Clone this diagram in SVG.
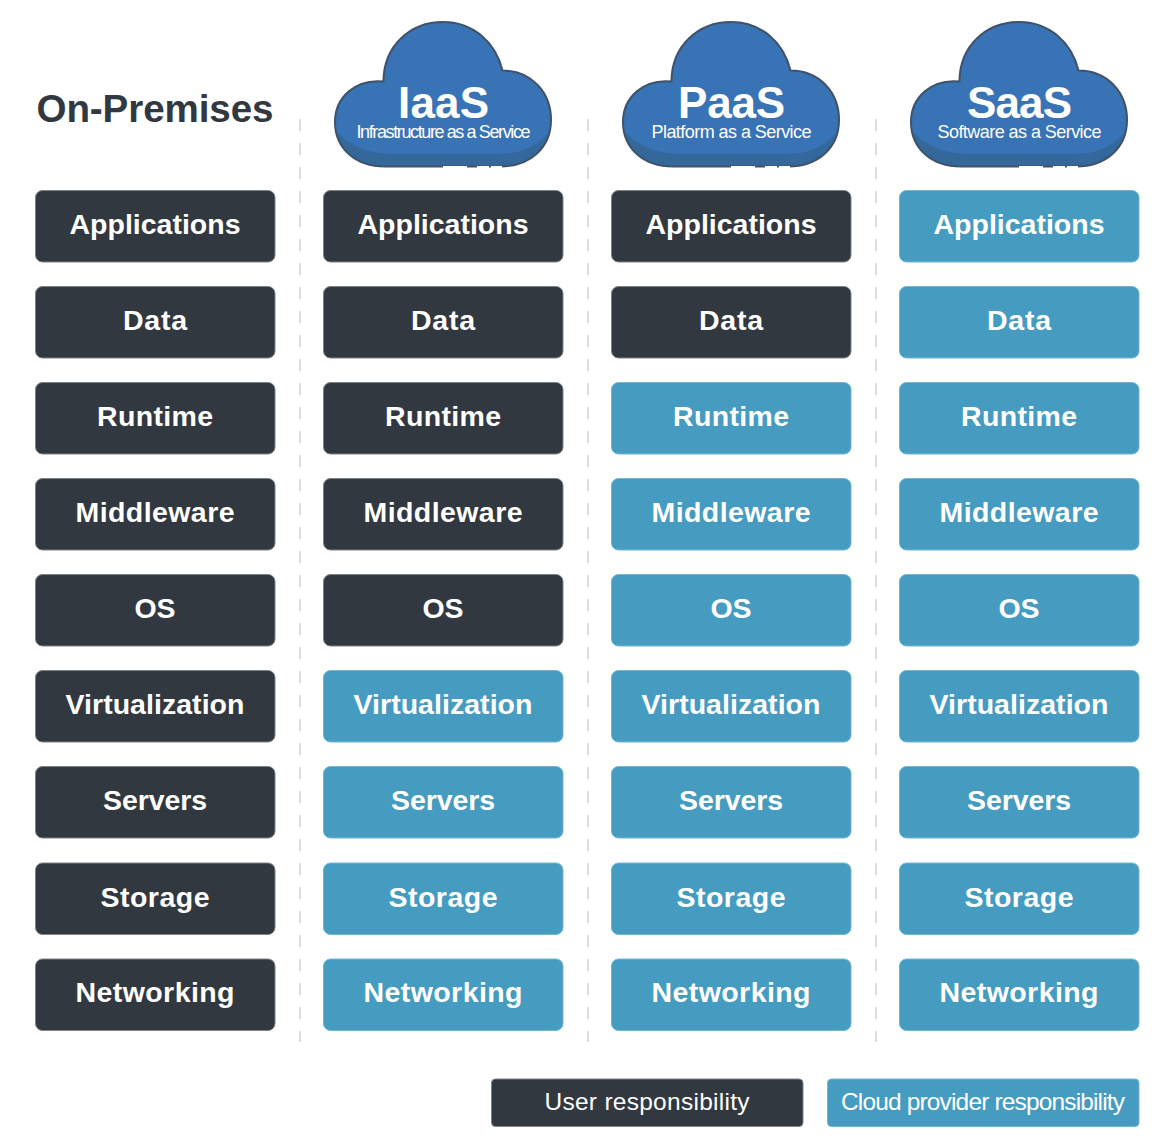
<svg xmlns="http://www.w3.org/2000/svg" width="1154" height="1148" viewBox="0 0 1154 1148">
<style>
text{font-family:"Liberation Sans",Arial,sans-serif;fill:#fff;text-anchor:middle}
.u{fill:#32383f;stroke:#7d8286;stroke-width:1}
.c{fill:#459cc0;stroke:#74b5d1;stroke-width:1}
.l{font-size:28.5px;font-weight:700}
.h{font-size:44px;font-weight:700}
.s{font-size:18px}
.k{font-size:24.5px}
.d{stroke:#d4d4d4;stroke-width:1.5;stroke-dasharray:12 12;fill:none}
</style>
<defs>
<path id="cp" d="M383.500 81.500C383.500 46 410 22 443 22C473 22 495.500 42 502.500 70.500C531 70.500 551 92 551 120C551 148 530 166.500 500 166.500L385 166.500C355 166.500 335 148 335 122C335 98 355 78.500 383.500 81.500Z"/>
<clipPath id="cc"><use href="#cp"/></clipPath>
<g id="cloud">
<use href="#cp" fill="#3873b6"/>
<path clip-path="url(#cc)" d="M330 122C340 142 365 154 392 154L500 154C525 154 545 142 556 122L556 170L330 170Z" fill="#34679a"/>
<use href="#cp" fill="none" stroke="#3f5269" stroke-width="2"/>
<path d="M443 167H467M477 167H489M491 167H502" stroke="#fff" stroke-width="2" fill="none"/>
</g>
</defs>
<rect width="1154" height="1148" fill="#fff"/>
<g id="connectors">
<path class="d" d="M300 119V1042"/>
<path class="d" d="M588 119V1042"/>
<path class="d" d="M876 119V1042"/>
</g>
<g id="on-premises-title"><text x="155" y="121.500" textLength="237" style="font-size:38.6px;font-weight:700;fill:#32383f">On-Premises</text></g>
<g id="iaas-cloud"><use href="#cloud"/><text class="h" x="443.500" y="117.500" textLength="91">IaaS</text><text class="s" x="443.500" y="138" textLength="174">Infrastructure as a Service</text></g>
<g id="paas-cloud"><use href="#cloud" x="288"/><text class="h" x="731.500" y="117.500" textLength="107">PaaS</text><text class="s" x="731.500" y="138" textLength="160">Platform as a Service</text></g>
<g id="saas-cloud"><use href="#cloud" x="576"/><text class="h" x="1019.500" y="117.500" textLength="105">SaaS</text><text class="s" x="1019.500" y="138" textLength="164">Software as a Service</text></g>

<g id="op-applications"><rect class="u" x="35.500" y="190.500" width="239.500" height="71.500" rx="7"/><text class="l" x="155" y="233.800" textLength="171">Applications</text></g>
<g id="op-data"><rect class="u" x="35.500" y="286.500" width="239.500" height="71.500" rx="7"/><text class="l" x="155" y="329.800" textLength="64">Data</text></g>
<g id="op-runtime"><rect class="u" x="35.500" y="382.500" width="239.500" height="71.500" rx="7"/><text class="l" x="155" y="425.800" textLength="116">Runtime</text></g>
<g id="op-middleware"><rect class="u" x="35.500" y="478.500" width="239.500" height="71.500" rx="7"/><text class="l" x="155" y="521.800" textLength="159">Middleware</text></g>
<g id="op-os"><rect class="u" x="35.500" y="574.500" width="239.500" height="71.500" rx="7"/><text class="l" x="155" y="617.800" textLength="41">OS</text></g>
<g id="op-virtualization"><rect class="u" x="35.500" y="670.500" width="239.500" height="71.500" rx="7"/><text class="l" x="155" y="713.800" textLength="179">Virtualization</text></g>
<g id="op-servers"><rect class="u" x="35.500" y="766.500" width="239.500" height="71.500" rx="7"/><text class="l" x="155" y="809.800" textLength="104">Servers</text></g>
<g id="op-storage"><rect class="u" x="35.500" y="863" width="239.500" height="71.500" rx="7"/><text class="l" x="155" y="906.800" textLength="109">Storage</text></g>
<g id="op-networking"><rect class="u" x="35.500" y="959" width="239.500" height="71.500" rx="7"/><text class="l" x="155" y="1001.800" textLength="159">Networking</text></g>

<g id="iaas-applications"><rect class="u" x="323.500" y="190.500" width="239.500" height="71.500" rx="7"/><text class="l" x="443" y="233.800" textLength="171">Applications</text></g>
<g id="iaas-data"><rect class="u" x="323.500" y="286.500" width="239.500" height="71.500" rx="7"/><text class="l" x="443" y="329.800" textLength="64">Data</text></g>
<g id="iaas-runtime"><rect class="u" x="323.500" y="382.500" width="239.500" height="71.500" rx="7"/><text class="l" x="443" y="425.800" textLength="116">Runtime</text></g>
<g id="iaas-middleware"><rect class="u" x="323.500" y="478.500" width="239.500" height="71.500" rx="7"/><text class="l" x="443" y="521.800" textLength="159">Middleware</text></g>
<g id="iaas-os"><rect class="u" x="323.500" y="574.500" width="239.500" height="71.500" rx="7"/><text class="l" x="443" y="617.800" textLength="41">OS</text></g>
<g id="iaas-virtualization"><rect class="c" x="323.500" y="670.500" width="239.500" height="71.500" rx="7"/><text class="l" x="443" y="713.800" textLength="179">Virtualization</text></g>
<g id="iaas-servers"><rect class="c" x="323.500" y="766.500" width="239.500" height="71.500" rx="7"/><text class="l" x="443" y="809.800" textLength="104">Servers</text></g>
<g id="iaas-storage"><rect class="c" x="323.500" y="863" width="239.500" height="71.500" rx="7"/><text class="l" x="443" y="906.800" textLength="109">Storage</text></g>
<g id="iaas-networking"><rect class="c" x="323.500" y="959" width="239.500" height="71.500" rx="7"/><text class="l" x="443" y="1001.800" textLength="159">Networking</text></g>

<g id="paas-applications"><rect class="u" x="611.500" y="190.500" width="239.500" height="71.500" rx="7"/><text class="l" x="731" y="233.800" textLength="171">Applications</text></g>
<g id="paas-data"><rect class="u" x="611.500" y="286.500" width="239.500" height="71.500" rx="7"/><text class="l" x="731" y="329.800" textLength="64">Data</text></g>
<g id="paas-runtime"><rect class="c" x="611.500" y="382.500" width="239.500" height="71.500" rx="7"/><text class="l" x="731" y="425.800" textLength="116">Runtime</text></g>
<g id="paas-middleware"><rect class="c" x="611.500" y="478.500" width="239.500" height="71.500" rx="7"/><text class="l" x="731" y="521.800" textLength="159">Middleware</text></g>
<g id="paas-os"><rect class="c" x="611.500" y="574.500" width="239.500" height="71.500" rx="7"/><text class="l" x="731" y="617.800" textLength="41">OS</text></g>
<g id="paas-virtualization"><rect class="c" x="611.500" y="670.500" width="239.500" height="71.500" rx="7"/><text class="l" x="731" y="713.800" textLength="179">Virtualization</text></g>
<g id="paas-servers"><rect class="c" x="611.500" y="766.500" width="239.500" height="71.500" rx="7"/><text class="l" x="731" y="809.800" textLength="104">Servers</text></g>
<g id="paas-storage"><rect class="c" x="611.500" y="863" width="239.500" height="71.500" rx="7"/><text class="l" x="731" y="906.800" textLength="109">Storage</text></g>
<g id="paas-networking"><rect class="c" x="611.500" y="959" width="239.500" height="71.500" rx="7"/><text class="l" x="731" y="1001.800" textLength="159">Networking</text></g>

<g id="saas-applications"><rect class="c" x="899.500" y="190.500" width="239.500" height="71.500" rx="7"/><text class="l" x="1019" y="233.800" textLength="171">Applications</text></g>
<g id="saas-data"><rect class="c" x="899.500" y="286.500" width="239.500" height="71.500" rx="7"/><text class="l" x="1019" y="329.800" textLength="64">Data</text></g>
<g id="saas-runtime"><rect class="c" x="899.500" y="382.500" width="239.500" height="71.500" rx="7"/><text class="l" x="1019" y="425.800" textLength="116">Runtime</text></g>
<g id="saas-middleware"><rect class="c" x="899.500" y="478.500" width="239.500" height="71.500" rx="7"/><text class="l" x="1019" y="521.800" textLength="159">Middleware</text></g>
<g id="saas-os"><rect class="c" x="899.500" y="574.500" width="239.500" height="71.500" rx="7"/><text class="l" x="1019" y="617.800" textLength="41">OS</text></g>
<g id="saas-virtualization"><rect class="c" x="899.500" y="670.500" width="239.500" height="71.500" rx="7"/><text class="l" x="1019" y="713.800" textLength="179">Virtualization</text></g>
<g id="saas-servers"><rect class="c" x="899.500" y="766.500" width="239.500" height="71.500" rx="7"/><text class="l" x="1019" y="809.800" textLength="104">Servers</text></g>
<g id="saas-storage"><rect class="c" x="899.500" y="863" width="239.500" height="71.500" rx="7"/><text class="l" x="1019" y="906.800" textLength="109">Storage</text></g>
<g id="saas-networking"><rect class="c" x="899.500" y="959" width="239.500" height="71.500" rx="7"/><text class="l" x="1019" y="1001.800" textLength="159">Networking</text></g>

<g id="legend-user"><rect class="u" x="491.500" y="1079" width="311.500" height="47.500" rx="4"/><text class="k" x="647" y="1110" textLength="205">User responsibility</text></g>
<g id="legend-cloud"><rect class="c" x="827.500" y="1079" width="311.500" height="47.500" rx="4"/><text class="k" x="983" y="1110" textLength="284">Cloud provider responsibility</text></g>
</svg>
